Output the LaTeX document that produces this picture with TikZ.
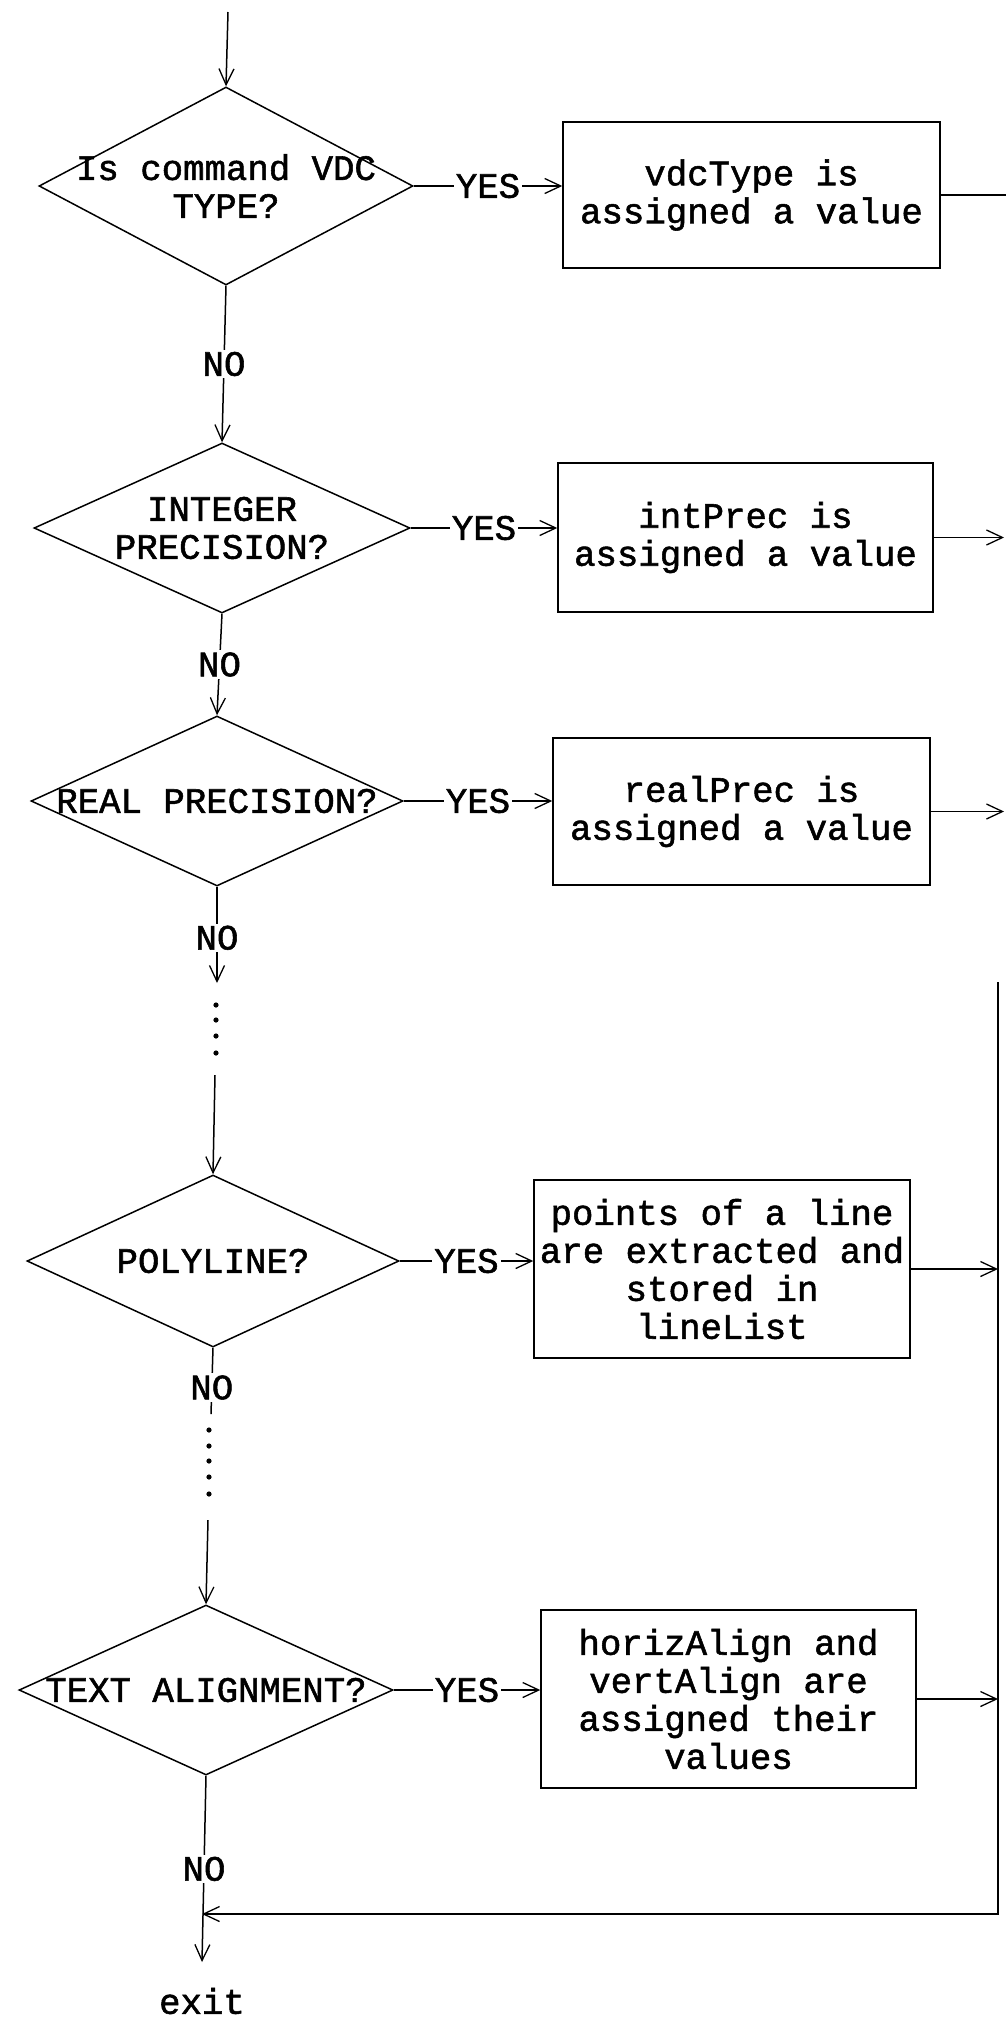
\documentclass[tikz,border=0pt]{standalone}
\usepackage{fontspec}
\setmainfont{Liberation Mono}[BoldFont=Liberation Mono, BoldFeatures={FakeBold=1.5}]
\usetikzlibrary{shapes.geometric,arrows.meta}
\begin{document}
\begin{tikzpicture}[x=1pt,y=-1pt,
  line width=1.5pt,
  every node/.style={font=\fontsize{35.7}{38}\selectfont\bfseries},
  dia/.style={diamond, draw, inner sep=0pt, minimum width=#1},
  dia/.default=374pt,
  dtext/.style={align=center, inner sep=0pt},
  stepbox/.style={rectangle, draw, inner sep=0pt, align=center, minimum width=376pt},
  arr/.style={-{Straight Barb[length=16pt,width=15pt,line width=1.3pt]}},
  nolbl/.style={fill=white, inner sep=2pt},
  yeslbl/.style={fill=white, inner sep=2pt},
  dotmark/.style={fill=black}
]
\useasboundingbox (0,0) rectangle (1006,2019);

% coordinates for free ends
\coordinate (start) at (228,12);
\coordinate (redge) at (1008,0);
\coordinate (rt) at (998,982);
\coordinate (rb) at (998,1914);
\coordinate (a3) at (217,983);
\coordinate (c4) at (215,1075);
\coordinate (a4) at (211,1414);
\coordinate (c5) at (208,1520);
\coordinate (ex) at (202,1962);

% decisions
\node[dia=374pt, minimum height=198pt, label={[dtext]center:Is command VDC\\TYPE?}] (d1) at (226,186) {};
\node[dia=376pt, minimum height=170pt, label={[dtext]center:INTEGER\\PRECISION?}] (d2) at (222,528) {};
\node[dia=372pt, minimum height=170pt, label={[dtext]center:REAL PRECISION?}] (d3) at (217,801) {};
\node[dia=372pt, minimum height=172pt, label={[dtext]center:POLYLINE?}] (d4) at (213,1261) {};
\node[dia=374pt, minimum height=170pt, label={[dtext]center:TEXT ALIGNMENT?}] (d5) at (206,1690) {};

% actions
\node[stepbox, minimum width=377pt, minimum height=146pt] (b1) at (751.5,195) {vdcType is\\assigned a value};
\node[stepbox, minimum width=375pt, minimum height=149pt] (b2) at (745.5,537.5) {intPrec is\\assigned a value};
\node[stepbox, minimum width=377pt, minimum height=147pt] (b3) at (741.5,811.5) {realPrec is\\assigned a value};
\node[stepbox, minimum width=376pt, minimum height=178pt] (b4) at (722,1269) {points of a line\\are extracted and\\stored in\\lineList};
\node[stepbox, minimum width=375pt, minimum height=178pt] (b5) at (728.5,1699) {horizAlign and\\vertAlign are\\assigned their\\values};

\node[inner sep=0pt] (exit) at (202,2001) {exit};

% main flow
\draw[arr] (start) -- (d1.north);
\draw[arr] (d1.south) -- node[nolbl]{NO} (d2.north);
\draw[arr] (d2.south) -- node[nolbl]{NO} (d3.north);
\draw[arr] (d3.south) -- node[nolbl, pos=0.53]{NO} (a3);
\foreach \yy in {1005,1020,1036,1053} \fill[dotmark] (216,\yy) circle (2.6pt);
\draw[arr] (c4) -- (d4.north);
\draw (d4.south) -- node[nolbl, pos=0.6]{NO} (a4);
\foreach \yy in {1430,1446,1461,1477,1494} \fill[dotmark] (209,\yy) circle (2.6pt);
\draw[arr] (c5) -- (d5.north);
\draw[arr] (d5.south) -- node[nolbl, pos=0.5]{NO} (ex);

% yes branches
\draw[arr] (d1.east) -- node[yeslbl]{YES} (d1.east -| b1.west);
\draw[arr] (d2.east) -- node[yeslbl]{YES} (d2.east -| b2.west);
\draw[arr] (d3.east) -- node[yeslbl]{YES} (d3.east -| b3.west);
\draw[arr] (d4.east) -- node[yeslbl]{YES} (d4.east -| b4.west);
\draw[arr] (d5.east) -- node[yeslbl]{YES} (d5.east -| b5.west);

% outputs to the right
\draw (b1.east) -- (b1.east -| redge);
\draw[arr] (b2.east) -- ([xshift=-4pt]b2.east -| redge);
\draw[arr] (b3.east) -- ([xshift=-4pt]b3.east -| redge);
\draw[arr] (b4.east) -- (b4.east -| rt);
\draw[arr] (b5.east) -- (b5.east -| rt);

% return line
\draw[arr] (rt) -- (rb) -- (rb -| ex);
\end{tikzpicture}
\end{document}
